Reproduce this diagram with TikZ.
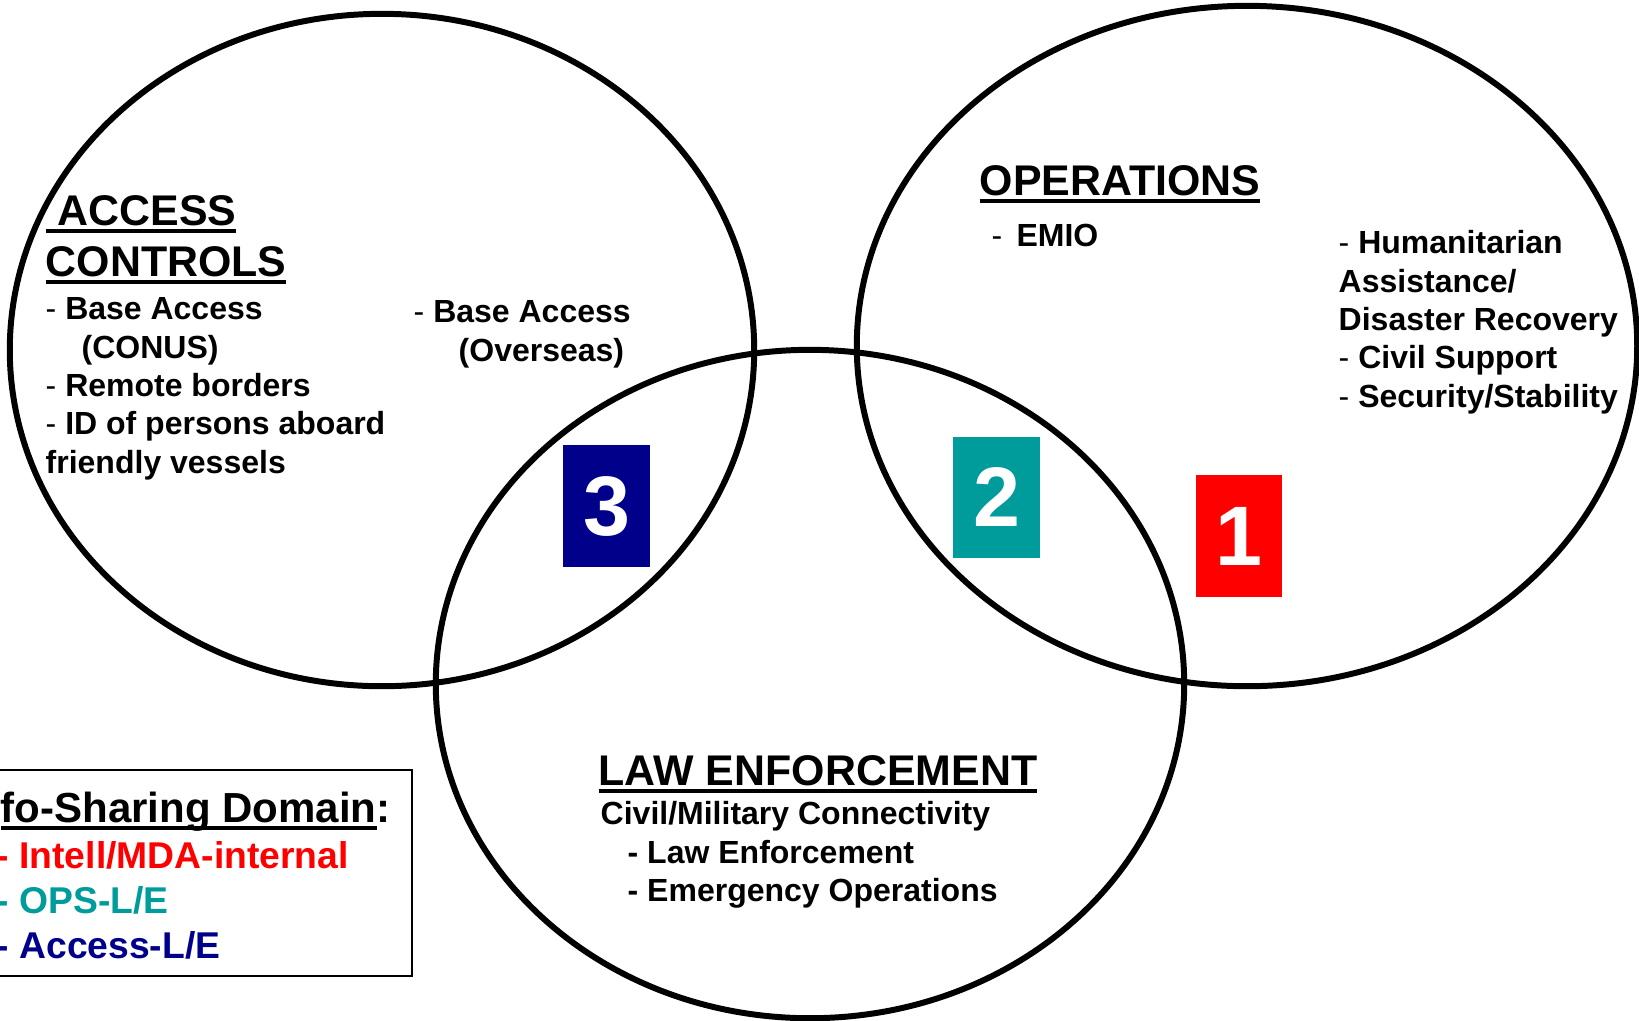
\documentclass[tikz,border=0pt]{standalone}
\usepackage{fontspec}
\setmainfont{Liberation Sans}
\definecolor{navybox}{RGB}{0,0,139}
\definecolor{tealbox}{RGB}{0,155,155}
\definecolor{redbox}{RGB}{255,0,0}
\newcommand\ulhead[1]{\setbox0=\hbox{#1}\rlap{\rule[-2.25pt]{\wd0}{1.1pt}}\box0}
\newcommand\itemdash{{\mdseries -}}
\begin{document}
\begin{tikzpicture}[x=0.01cm,y=-0.01cm]
		  \tikzstyle{every node}=[inner sep=0pt]
		  \tikzstyle{head}=[anchor=base west,font=\fontsize{12.2}{14}\selectfont\bfseries]
		  \tikzstyle{items}=[anchor=north west,align=left,font=\fontsize{9.1}{10.9}\selectfont\bfseries]
		  \tikzstyle{keyline}=[anchor=base west,font=\fontsize{10.6}{12}\selectfont\bfseries]
		  \tikzstyle{numbox}=[minimum width=0.86cm,minimum height=1.21cm,text=white,font=\fontsize{24}{24}\selectfont\bfseries]
		  \useasboundingbox (0,0) rectangle (1639,1020);
		  % the three domains
		  \draw[line width=1.7pt](382,350) ellipse [x radius=3.72cm,y radius=3.36cm];
		  \draw[line width=1.7pt](1247,346) ellipse [x radius=3.90cm,y radius=3.40cm];
		  \draw[line width=1.7pt](810,684) ellipse [x radius=3.74cm,y radius=3.34cm];
		  % access controls
		  \node[head](accesshead) at (45,225){\ulhead{\ ACCESS}};
		  \node[head](controlshead) at (45,276){\ulhead{CONTROLS}};
		  \node[items](accessitems) at (45,297){\itemdash{} Base Access\\\hspace*{0.36cm}(CONUS)\\\itemdash{} Remote borders\\\itemdash{} ID of persons aboard\\friendly vessels};
		  \node[items](overseas) at (413,300){\itemdash{} Base Access\\\hspace*{0.45cm}(Overseas)};
		  % operations
		  \node[head](opshead) at (979,195){\ulhead{OPERATIONS}};
		  \node[items](emio) at (991,223){\itemdash{}\ \,EMIO};
		  \node[items](opsitems) at (1338,230){\itemdash{} Humanitarian\\Assistance/\\Disaster Recovery\\\itemdash{} Civil Support\\\itemdash{} Security/Stability};
		  % law enforcement
		  \node[head](lawhead) at (598,785){\ulhead{LAW ENFORCEMENT}};
		  \node[items](lawitems) at (600,801){Civil/Military Connectivity\\\hspace*{0.27cm}- Law Enforcement\\\hspace*{0.27cm}- Emergency Operations};
		  % numbered overlaps
		  \node[numbox,fill=navybox](three) at (606.5,506){3};
		  \node[numbox,fill=tealbox](two) at (996.5,497.5){2};
		  \node[numbox,fill=redbox](one) at (1239,536){1};
		  % key
		  \draw[line width=0.6pt](0,770) -| (412,976) -- (0,976);
		  \node[head,font=\fontsize{11.95}{14}\selectfont\bfseries](keyhead) at (0,822){\ulhead{fo-Sharing Domain}:};
		  \node[keyline,text=redbox](keyintell) at (-4,868){- Intell/MDA-internal};
		  \node[keyline,text=tealbox](keyops) at (-4,913){- OPS-L/E};
		  \node[keyline,text=navybox](keyaccess) at (-4,958){- Access-L/E};
		\end{tikzpicture}
\end{document}
